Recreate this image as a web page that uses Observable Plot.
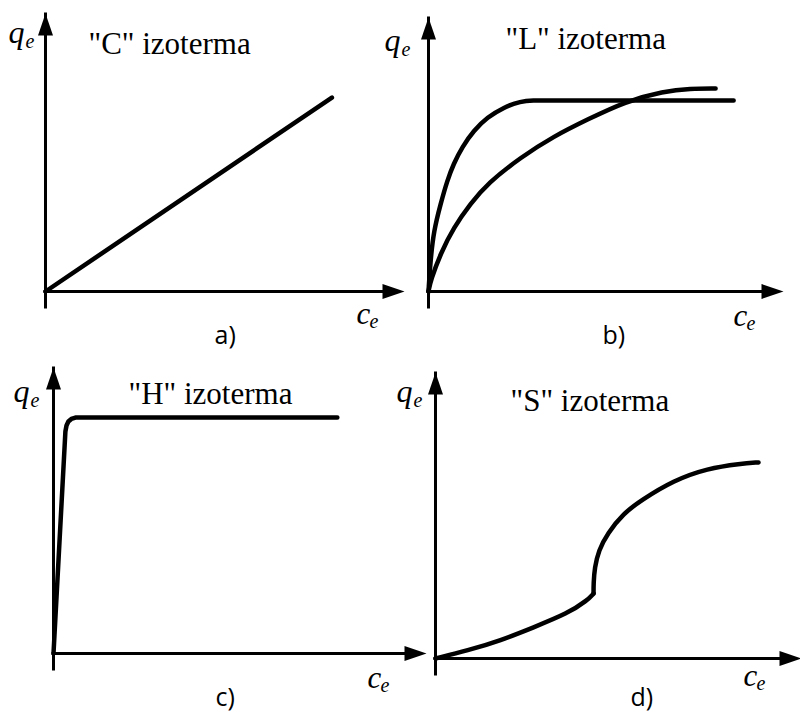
<!DOCTYPE html>
<html>
<head>
<meta charset="utf-8">
<script src="https://cdn.jsdelivr.net/npm/d3@7"></script>
<script src="https://cdn.jsdelivr.net/npm/@observablehq/plot@0.6"></script>
<style>
  html, body { margin: 0; padding: 0; background: #fff; }
  #wrap { position: relative; width: 800px; height: 714px; overflow: hidden; background: #fff; }
  .panel { position: absolute; width: 400px; height: 357px; }
  .panel svg { overflow: visible; }
</style>
</head>
<body>
<div id="wrap"></div>
<script>
// ---- data (conceptual units, axis length = 10) ----
const AXIS_MAX = 10;
const titles = ['"C" izoterma', '"L" izoterma', '"H" izoterma', '"S" izoterma'];
const tags = ["a)", "b)", "c)", "d)"];
const yName = "q", xName = "c", subName = "e";

const cIsoX = [0, 8.0];
const cIsoY = [0, 7.0];

const lFastX = [0, 0.056, 0.15, 0.34, 0.53, 0.71, 0.95, 1.28, 1.66, 2.13, 2.60, 2.97, 3.31, 8.62];
const lFastY = [0, 1.14, 2.23, 3.20, 4.07, 4.68, 5.29, 5.90, 6.38, 6.75, 6.97, 7.0, 7.0, 7.0];
const lSlowX = [0, 0.06, 0.34, 0.71, 1.19, 1.67, 2.60, 3.53, 4.49, 5.56, 6.64, 7.40, 8.11];
const lSlowY = [0, 0.40, 1.39, 2.34, 3.22, 3.96, 4.91, 5.68, 6.30, 6.96, 7.33, 7.44, 7.44];

const hIsoX = [0, 0.32, 0.35, 0.40, 0.48, 0.59, 0.73, 7.63];
const hIsoY = [0, 7.79, 8.0, 8.14, 8.23, 8.28, 8.28, 8.28];

const sLowX = [0, 0.88, 1.78, 2.68, 3.62, 4.16, 4.33];
const sLowY = [0, 0.28, 0.63, 1.09, 1.58, 2.04, 2.28];
const sHighX = [4.33, 4.33, 4.36, 4.47, 4.71, 5.15, 5.62, 6.52, 7.45, 8.36, 8.85];
const sHighY = [2.28, 2.63, 3.19, 3.79, 4.39, 5.09, 5.54, 6.25, 6.67, 6.84, 6.88];

// ---- helpers ----
const toRows = (xs, ys, id) => xs.map((x, i) => ({x, y: ys[i], id}));

const arrowHead = {
  draw(ctx) {
    ctx.moveTo(0, -1);
    ctx.lineTo(7.5, 21);
    ctx.lineTo(-7.5, 21);
    ctx.closePath();
  }
};

const SERIF = "Liberation Serif, Times New Roman, serif";
const SANS = "Open Sans, Liberation Sans, sans-serif";

function txt(s, x, y, opts) {
  return Plot.text([s], {
    frameAnchor: "top-left", dx: x, dy: y,
    text: d => d, textAnchor: "start", lineAnchor: "bottom",
    fill: "black", ...opts
  });
}

function panel(cfg) {
  const curves = cfg.curves.map(c => Plot.line(c, {
    x: "x", y: "y", z: "id", curve: cfg.curve,
    stroke: "black", strokeWidth: 4.5,
    strokeLinecap: "round", strokeLinejoin: "round"
  }));
  const plot = Plot.plot({
    width: 400, height: 357, margin: 0,
    x: {domain: [0, AXIS_MAX], range: [cfg.ox, cfg.xt], axis: null},
    y: {domain: [0, AXIS_MAX], range: [cfg.oy, cfg.yt], axis: null},
    style: {background: "transparent", overflow: "visible"},
    marks: [
      Plot.ruleY([0], {x1: 0, x2: AXIS_MAX, insetRight: 16, stroke: "black", strokeWidth: 3, strokeLinecap: "square"}),
      Plot.ruleX([0], {y1: 0, y2: AXIS_MAX, insetTop: 16, stroke: "black", strokeWidth: 3, strokeLinecap: "square"}),
      Plot.dot([[0, AXIS_MAX]], {x: d => d[0], y: d => d[1], symbol: arrowHead, fill: "black", stroke: "none"}),
      Plot.dot([[AXIS_MAX, 0]], {x: d => d[0], y: d => d[1], symbol: arrowHead, rotate: 90, fill: "black", stroke: "none"}),
      ...curves,
      txt(cfg.title, cfg.title_xy[0], cfg.title_xy[1], {fontFamily: SERIF, fontSize: 31}),
      txt(yName, cfg.q_xy[0], cfg.q_xy[1], {fontFamily: SERIF, fontSize: 32, fontStyle: "italic"}),
      txt(subName, cfg.q_xy[0] + 17, cfg.q_xy[1] + 5, {fontFamily: SERIF, fontSize: 20, fontStyle: "italic"}),
      txt(xName, cfg.c_xy[0], cfg.c_xy[1], {fontFamily: SERIF, fontSize: 31, fontStyle: "italic"}),
      txt(subName, cfg.c_xy[0] + 13, cfg.c_xy[1] + 4, {fontFamily: SERIF, fontSize: 20, fontStyle: "italic"}),
      txt(cfg.tag, cfg.tag_xy[0], cfg.tag_xy[1], {fontFamily: SANS, fontSize: 25})
    ]
  });
  const div = document.createElement("div");
  div.className = "panel";
  div.style.left = cfg.left + "px";
  div.style.top = cfg.top + "px";
  div.appendChild(plot);
  document.getElementById("wrap").appendChild(div);
}

panel({
  left: 0, top: 0, ox: 45, oy: 291, xt: 403, yt: 14, curve: "linear",
  curves: [toRows(cIsoX, cIsoY, "C")],
  title: titles[0], title_xy: [88, 53], q_xy: [8, 42], c_xy: [356, 323], tag: tags[0], tag_xy: [214, 343]
});
panel({
  left: 400, top: 0, ox: 28, oy: 291, xt: 382, yt: 18, curve: "basis",
  curves: [toRows(lFastX, lFastY, "L1"), toRows(lSlowX, lSlowY, "L2")],
  title: titles[1], title_xy: [105, 48], q_xy: [-16, 50], c_xy: [333, 325], tag: tags[1], tag_xy: [202, 343]
});
panel({
  left: 0, top: 357, ox: 53, oy: 296, xt: 425, yt: 11, curve: "linear",
  curves: [toRows(hIsoX, hIsoY, "H")],
  title: titles[2], title_xy: [128, 46], q_xy: [13, 44], c_xy: [367, 330], tag: tags[2], tag_xy: [215, 348]
});
panel({
  left: 400, top: 357, ox: 35, oy: 301, xt: 400, yt: 16, curve: "basis",
  curves: [toRows(sLowX, sLowY, "S1"), toRows(sHighX, sHighY, "S2")],
  title: titles[3], title_xy: [110, 53], q_xy: [-4, 44], c_xy: [343, 328], tag: tags[3], tag_xy: [230, 348]
});
</script>
</body>
</html>
